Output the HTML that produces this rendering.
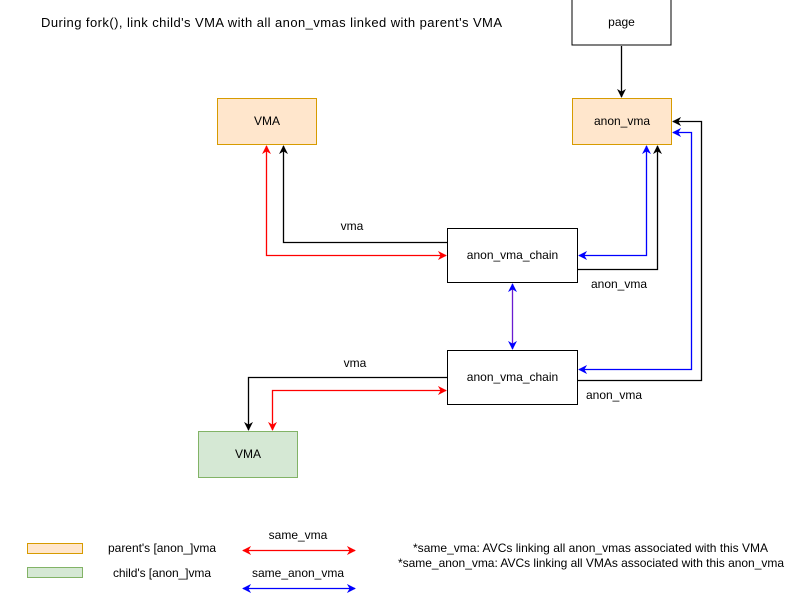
<!DOCTYPE html>
<html><head><meta charset="utf-8"><style>
html,body{margin:0;padding:0;background:#fff;}
svg{display:block;font-family:"Liberation Sans",Arial,sans-serif;}
</style></head><body>
<svg width="809" height="613" viewBox="0 0 809 613" xmlns="http://www.w3.org/2000/svg">
<defs>
<marker id="ak" viewBox="0 0 10 10" refX="9" refY="5" markerWidth="9" markerHeight="9" orient="auto-start-reverse" markerUnits="userSpaceOnUse"><path d="M0,0 L10,5 L0,10 L3,5 z" fill="#000"/></marker>
<marker id="ar" viewBox="0 0 10 10" refX="9" refY="5" markerWidth="9" markerHeight="9" orient="auto-start-reverse" markerUnits="userSpaceOnUse"><path d="M0,0 L10,5 L0,10 L3,5 z" fill="#ff0000"/></marker>
<marker id="ab" viewBox="0 0 10 10" refX="9" refY="5" markerWidth="9" markerHeight="9" orient="auto-start-reverse" markerUnits="userSpaceOnUse"><path d="M0,0 L10,5 L0,10 L3,5 z" fill="#0000ff"/></marker>
</defs>
<text x="41" y="27" font-size="13" textLength="461" fill="#000">During fork(), link child's VMA with all anon_vmas linked with parent's VMA</text>

<rect x="572" y="-1" width="99" height="46" fill="#fff" stroke="#000"/>
<text x="621.5" y="26" font-size="12" text-anchor="middle">page</text>
<rect x="217.5" y="98.5" width="99" height="46" fill="#ffe6cc" stroke="#d79b00"/>
<text x="267" y="125" font-size="12" text-anchor="middle">VMA</text>
<rect x="572.5" y="98.5" width="99" height="46" fill="#ffe6cc" stroke="#d79b00"/>
<text x="622" y="125" font-size="12" text-anchor="middle">anon_vma</text>
<rect x="447.5" y="228.5" width="130" height="54" fill="#fff" stroke="#000"/>
<text x="512.5" y="259" font-size="12" text-anchor="middle">anon_vma_chain</text>
<rect x="447.5" y="350.5" width="130" height="54" fill="#fff" stroke="#000"/>
<text x="512.5" y="381" font-size="12" text-anchor="middle">anon_vma_chain</text>
<rect x="198.5" y="431.5" width="99" height="46" fill="#d5e8d4" stroke="#82b366"/>
<text x="248" y="458" font-size="12" text-anchor="middle">VMA</text>

<g fill="none" stroke-width="1.3">
<path d="M621.5,46 V97" stroke="#000" marker-end="url(#ak)"/>
<path d="M447,242.5 H283.5 V146" stroke="#000" marker-end="url(#ak)"/>
<path d="M266.5,146 V255.5 H446" stroke="#ff0000" marker-start="url(#ar)" marker-end="url(#ar)"/>
<path d="M579,255.5 H646.5 V146" stroke="#0000ff" marker-start="url(#ab)" marker-end="url(#ab)"/>
<path d="M578,269.5 H657.5 V146" stroke="#000" marker-end="url(#ak)"/>
<path d="M512.5,284 V349" stroke="#6a1bd0" marker-start="url(#ab)" marker-end="url(#ab)"/>
<path d="M579,369.5 H691.5 V132.5 H673" stroke="#0000ff" marker-start="url(#ab)" marker-end="url(#ab)"/>
<path d="M578,380.5 H701.5 V121.5 H673" stroke="#000" marker-end="url(#ak)"/>
<path d="M447,377.5 H248.5 V430" stroke="#000" marker-end="url(#ak)"/>
<path d="M272.5,430 V390.5 H446" stroke="#ff0000" marker-start="url(#ar)" marker-end="url(#ar)"/>
<path d="M243,550.5 H355" stroke="#ff0000" marker-start="url(#ar)" marker-end="url(#ar)"/>
<path d="M243,588.5 H355" stroke="#0000ff" marker-start="url(#ab)" marker-end="url(#ab)"/>
</g>

<text x="352" y="230" font-size="12" text-anchor="middle">vma</text>
<text x="619" y="288" font-size="12" text-anchor="middle">anon_vma</text>
<text x="355" y="367" font-size="12" text-anchor="middle">vma</text>
<text x="614" y="399" font-size="12" text-anchor="middle">anon_vma</text>

<rect x="27.5" y="543.5" width="55" height="10" fill="#ffe6cc" stroke="#d79b00"/>
<rect x="27.5" y="567.5" width="55" height="10" fill="#d5e8d4" stroke="#82b366"/>
<text x="108" y="552" font-size="12" textLength="108">parent's [anon_]vma</text>
<text x="113" y="577" font-size="12" textLength="98">child's [anon_]vma</text>
<text x="298" y="539" font-size="12" text-anchor="middle">same_vma</text>
<text x="298" y="577" font-size="12" text-anchor="middle">same_anon_vma</text>
<text x="413" y="552" font-size="12" textLength="355">*same_vma: AVCs linking all anon_vmas associated with this VMA</text>
<text x="398" y="567" font-size="12" textLength="386">*same_anon_vma: AVCs linking all VMAs associated with this anon_vma</text>
</svg>
</body></html>
